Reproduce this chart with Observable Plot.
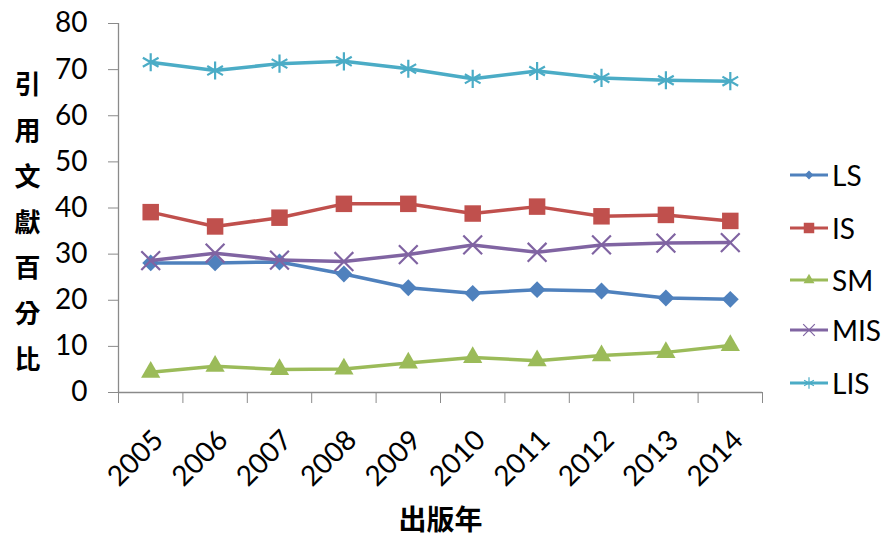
<!DOCTYPE html>
<html><head><meta charset="utf-8">
<script src="https://cdn.jsdelivr.net/npm/d3@7"></script>
<script src="https://cdn.jsdelivr.net/npm/@observablehq/plot@0.6"></script>
<style>
body{margin:0;background:#fff;}
#chart{position:relative;width:886px;height:538px;overflow:hidden;}
#legend{position:absolute;left:790px;top:0;font-family:Lato,"Open Sans",sans-serif;font-size:28px;color:#000;}
.item{position:absolute;left:0;display:flex;align-items:center;white-space:nowrap;height:40px;}
.item svg{display:block;margin-right:2px;}
</style></head><body><div id="chart"><div id="legend"></div></div>
<script>
const years = [2005,2006,2007,2008,2009,2010,2011,2012,2013,2014];
const seriesNames = ["LS","IS","SM","MIS","LIS"];
const LS  = [28.1,28.1,28.3,25.7,22.7,21.5,22.3,22.0,20.5,20.2];
const IS  = [39.1,36.0,37.9,40.9,40.9,38.8,40.3,38.2,38.5,37.2];
const SM  = [4.4,5.7,5.0,5.1,6.4,7.6,6.9,8.0,8.7,10.2];
const MIS = [28.6,30.2,28.7,28.4,29.9,32.0,30.4,32.0,32.4,32.5];
const LIS = [71.6,69.8,71.3,71.8,70.2,68.0,69.7,68.2,67.7,67.5];
const yTicks = [0,10,20,30,40,50,60,70,80];
const colors = ["#4F81BD","#C0504D","#9BBB59","#8064A2","#4BACC6"];
const symbols = ["diamond2","square2","triangle2","times","asterisk"];
const yTitle = "引用文獻百分比";
const xTitle = "出版年";

const valuesBySeries = [LS, IS, SM, MIS, LIS];
const data = seriesNames.flatMap((s, i) => years.map((y, j) => ({series: s, year: y, value: valuesBySeries[i][j]})));
const xDomain = [years[0] - 0.5, years[years.length - 1] + 0.5];
const boundaries = [...years.map(y => y - 0.5), years[years.length - 1] + 0.5];
const axisColor = "#8a8a8a";
const numFont = "Lato, 'Open Sans', sans-serif";
const cjkFont = "'Noto Sans CJK TC', 'Noto Sans CJK SC', sans-serif";
const dotR = [7.6, 10.5, 9.2, 8.6, 8.6];

const marks = [
  Plot.ruleX([xDomain[0]], {stroke: axisColor, strokeWidth: 1.3}),
  Plot.ruleY([0], {stroke: axisColor, strokeWidth: 1.3}),
  Plot.axisY({ticks: yTicks, tickSize: 10, tickPadding: 21, fontSize: 28, fontFamily: numFont, stroke: axisColor, fill: "#000", label: null, tickFormat: d => String(d)}),
  Plot.axisX({ticks: boundaries, tickSize: 11, tickFormat: () => "", stroke: axisColor, label: null}),
  Plot.text(years, {x: d => d, frameAnchor: "bottom", dx: 8, dy: 43, rotate: -45, textAnchor: "end", lineAnchor: "middle", text: d => String(d), fontSize: 28, fontFamily: numFont, fill: "#000"}),
  Plot.text([yTitle], {frameAnchor: "left", dx: -91, dy: 9, text: d => [...d].join("\n"), lineHeight: 1.76, lineAnchor: "middle", textAnchor: "middle", fontSize: 26, fontWeight: "bold", fontFamily: cjkFont, fill: "#000"}),
  Plot.text([xTitle], {frameAnchor: "bottom", dy: 129, lineAnchor: "middle", textAnchor: "middle", fontSize: 28, fontWeight: "bold", fontFamily: cjkFont, fill: "#000", ariaLabel: "x-title"})
];
seriesNames.forEach((s, i) => {
  const rows = data.filter(d => d.series === s);
  marks.push(Plot.line(rows, {x: "year", y: "value", stroke: colors[i], strokeWidth: 3.5, strokeLinejoin: "round"}));
  const filled = i < 3;
  marks.push(Plot.dot(rows, {x: "year", y: "value", symbol: symbols[i], r: dotR[i],
    fill: filled ? colors[i] : "none", stroke: filled ? "none" : colors[i], strokeWidth: filled ? 0 : 2.2}));
});

const plot = Plot.plot({
  width: 886, height: 538,
  marginLeft: 118, marginRight: 124, marginTop: 23, marginBottom: 146,
  x: {type: "linear", domain: xDomain},
  y: {domain: [0, 80]},
  style: {background: "#fff", overflow: "visible"},
  marks
});
document.getElementById("chart").prepend(plot);
d3.select(plot).selectAll('[aria-label="x-title"] text').style("letter-spacing", "5px");

// Legend
const symMap = {diamond2: d3.symbolDiamond2, square2: d3.symbolSquare2, triangle2: d3.symbolTriangle2, times: d3.symbolTimes, asterisk: d3.symbolAsterisk};
const legSizes = [50, 140, 85, 90, 90];
const legendY = [175, 228, 280, 330, 383];
const legend = d3.select("#legend");
seriesNames.forEach((s, i) => {
  const item = legend.append("div").attr("class", "item").style("top", (legendY[i] - 20) + "px");
  const svg = item.append("svg").attr("width", 40).attr("height", 20);
  svg.append("line").attr("x1", 0).attr("x2", 38).attr("y1", 10).attr("y2", 10).attr("stroke", colors[i]).attr("stroke-width", 3);
  const filled = i < 3;
  svg.append("path").attr("transform", "translate(19,10)")
    .attr("d", d3.symbol(symMap[symbols[i]], legSizes[i])())
    .attr("fill", filled ? colors[i] : "none")
    .attr("stroke", filled ? "none" : colors[i])
    .attr("stroke-width", filled ? 0 : 1.2);
  item.append("span").text(s);
});
</script></body></html>
